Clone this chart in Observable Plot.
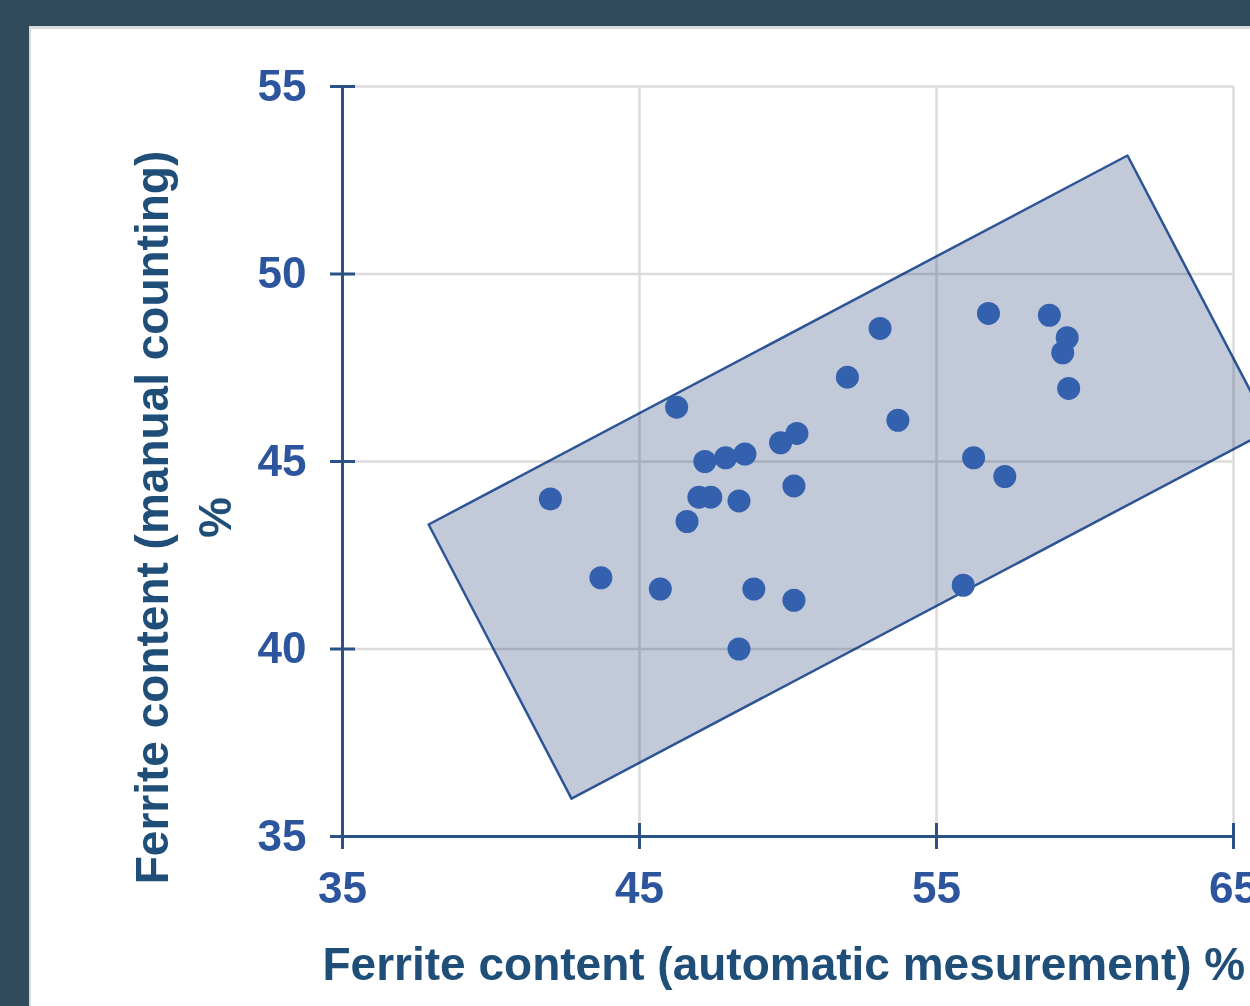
<!DOCTYPE html>
<html><head><meta charset="utf-8">
<script src="https://cdn.jsdelivr.net/npm/d3@7"></script>
<script src="https://cdn.jsdelivr.net/npm/@observablehq/plot@0.6"></script>
<style>
html,body{margin:0;padding:0;width:1250px;height:1006px;overflow:hidden;background:#304b5b;}
#panel{position:absolute;left:29px;top:26px;width:1300px;height:1100px;background:#fff;border-top:3px solid #dadada;border-left:2px solid #dadada;}
#chart{position:absolute;left:0;top:0;}
</style></head><body><div id="panel"></div><div id="chart"></div>
<script>
// Ferrite content: automatic measurement (x) vs manual counting (y), %
const autoX   = [42.0, 43.7, 45.7, 46.25, 46.6, 47.2, 47.0, 47.4, 47.9, 48.55, 48.35, 48.85, 48.35, 49.75, 50.3, 50.2, 50.2, 52.0, 53.1, 53.7, 56.25, 55.9, 56.75, 57.3, 58.8, 59.4, 59.25, 59.45];
const manualY = [44.0, 41.9, 41.6, 46.45, 43.4, 45.0, 44.05, 44.05, 45.1, 45.2, 43.95, 41.6, 40.0, 45.5, 45.75, 44.35, 41.3, 47.25, 48.55, 46.1, 45.1, 41.7, 48.95, 44.6, 48.9, 48.3, 47.9, 46.95];
// tolerance band (rotated rectangle corners)
const bandX = [37.9, 61.43, 66.25, 42.71];
const bandY = [43.32, 53.16, 45.85, 36.01];
const xTicks = [35, 45, 55, 65];
const yTicks = [35, 40, 45, 50, 55];
const xTitle = "Ferrite content (automatic mesurement) %";
const yTitle = "Ferrite content (manual counting)\n%";

const points = autoX.map((x, i) => ({x, y: manualY[i]}));
const band = bandX.map((x, i) => ({x, y: bandY[i]}));

const font = "'Liberation Sans', Arial, sans-serif";
const axisColor = "#2b5286";
const tickLabelColor = "#2d559e";
const titleColor = "#1f4e79";

const chart = Plot.plot({
  width: 1250,
  height: 1006,
  marginLeft: 342,
  marginRight: 17,
  marginTop: 86,
  marginBottom: 170,
  style: {background: "transparent", overflow: "visible", maxWidth: "none", fontFamily: font},
  x: {domain: [35, 65], axis: null},
  y: {domain: [35, 55], axis: null},
  marks: [
    Plot.gridX(xTicks, {stroke: "#dcdcdc", strokeOpacity: 1, strokeWidth: 2.5}),
    Plot.gridY(yTicks, {stroke: "#dcdcdc", strokeOpacity: 1, strokeWidth: 2.5}),
    Plot.line(band, {x: "x", y: "y", curve: "linear-closed", fill: "#c2cada", stroke: "#2d5596", strokeWidth: 2.5, mixBlendMode: "multiply"}),
    Plot.dot(points, {x: "x", y: "y", r: 11.5, fill: "#3461ad"}),
    Plot.ruleX([35], {stroke: axisColor, strokeWidth: 3}),
    Plot.ruleY([35], {stroke: axisColor, strokeWidth: 3}),
    Plot.axisY({ticks: yTicks, anchor: "left", label: null, tickSize: 25, dx: 13, tickPadding: 24,
      stroke: axisColor, strokeWidth: 3, fill: tickLabelColor, fontSize: 44, fontWeight: "bold", fontFamily: font}),
    Plot.axisX({ticks: xTicks, anchor: "bottom", label: null, tickSize: 26, dy: -13, tickPadding: 22,
      stroke: axisColor, strokeWidth: 3, fill: tickLabelColor, fontSize: 44, fontWeight: "bold", fontFamily: font}),
    Plot.text([yTitle], {text: d => d, frameAnchor: "left", rotate: -90, dx: -163, dy: 56, textAnchor: "middle", lineAnchor: "middle",
      lineHeight: 1.37, fontSize: 46, fontWeight: "bold", fill: titleColor, fontFamily: font}),
    Plot.text([xTitle], {text: d => d, frameAnchor: "bottom-left", textAnchor: "start", lineAnchor: "top", dx: -20, dy: 111,
      fontSize: 46, fontWeight: "bold", fill: titleColor, fontFamily: font})
  ]
});
document.getElementById("chart").appendChild(chart);
</script>
</body></html>
